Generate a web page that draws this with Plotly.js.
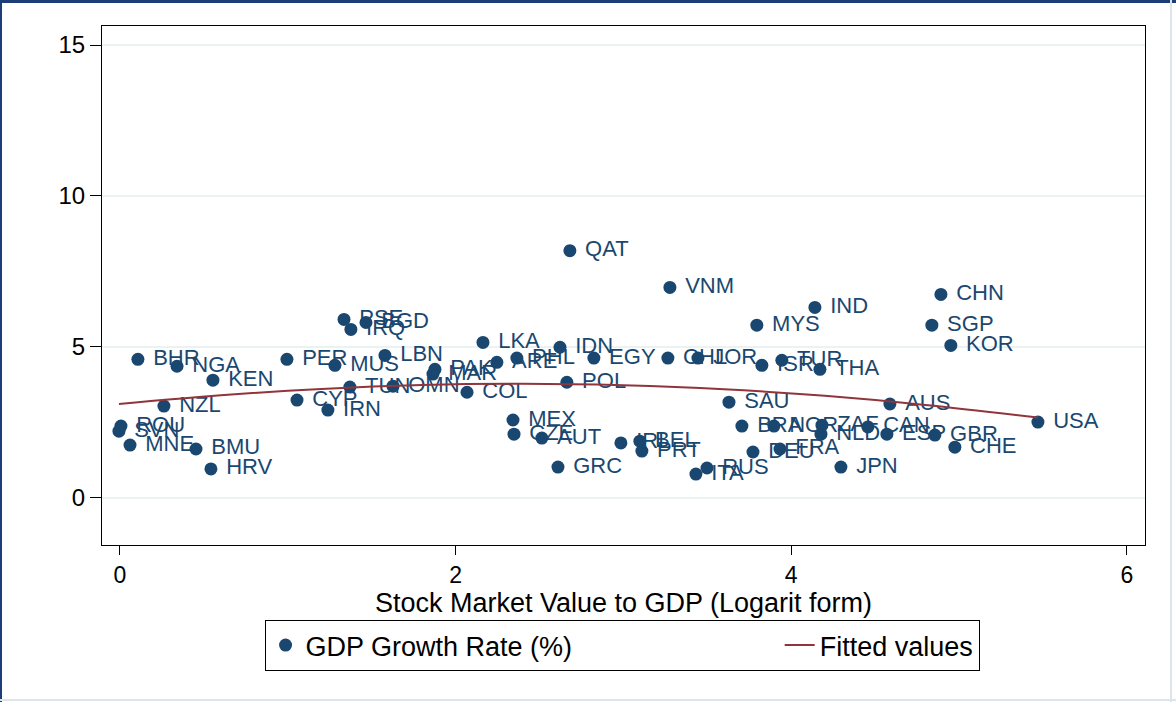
<!DOCTYPE html>
<html>
<head>
<meta charset="utf-8">
<script src="https://cdn.plot.ly/plotly-3.0.1.min.js"></script>
<style>html,body{margin:0;padding:0;background:#fff;}#chart{width:1176px;height:702px;}</style>
</head>
<body>
<div id="chart"></div>
<script>
// Country codes (labels)
const countries = ["BHR","NGA","KEN","PER","MUS","LBN","PAK","MAR","PSE","BGD","IRQ","LKA","IDN","ARE","PHL","EGY","CHL","JOR","MYS","IND","ISR","TUR","THA","QAT","VNM","CHN","SGP","KOR","TUN","OMN","COL","POL","SAU","AUS","USA","NZL","CYP","IRN","ROU","SVN","MNE","BMU","HRV","MEX","CZE","AUT","GRC","IRL","BEL","PRT","RUS","ITA","BRA","NOR","ZAF","NLD","CAN","ESP","GBR","CHE","DEU","FRA","JPN"];
// Stock market value to GDP (log)
const stockLog = [0.107,0.340,0.554,0.995,1.281,1.579,1.877,1.865,1.335,1.466,1.376,2.163,2.622,2.246,2.365,2.824,3.265,3.444,3.795,4.141,3.825,3.944,4.171,2.681,3.277,4.892,4.838,4.951,1.370,1.627,2.068,2.663,3.629,4.588,5.470,0.262,1.055,1.239,0.006,-0.006,0.060,0.453,0.542,2.342,2.348,2.514,2.610,2.985,3.098,3.110,3.498,3.432,3.706,3.897,4.183,4.177,4.457,4.570,4.856,4.975,3.772,3.933,4.296];
// GDP growth rate (%)
const gdpGrowth = [4.59,4.36,3.90,4.59,4.39,4.72,4.26,4.10,5.91,5.81,5.58,5.15,4.99,4.49,4.63,4.63,4.63,4.63,5.72,6.31,4.39,4.56,4.26,8.19,6.97,6.74,5.72,5.05,3.67,3.70,3.50,3.83,3.17,3.11,2.51,3.04,3.24,2.91,2.38,2.21,1.75,1.62,0.96,2.58,2.11,1.98,1.02,1.82,1.88,1.55,0.99,0.79,2.38,2.38,2.41,2.11,2.35,2.11,2.08,1.68,1.52,1.62,1.02];
// Fitted values
const fitX = [-0.006,0.6,1.2,1.8,2.4,3.0,3.6,4.2,4.8,5.47];
const fitY = [3.11,3.40,3.61,3.74,3.78,3.73,3.60,3.38,3.08,2.66];
// Axis ticks
const xTicks = [0,2,4,6];
const yTicks = [0,5,10,15];

const navy = "#1a476f";
const maroon = "#90353b";
const font = "Liberation Sans, Arial, Helvetica, sans-serif";
const nb = "\u00a0";

const traces = [
  {
    type: "scatter", mode: "markers+text",
    x: stockLog, y: gdpGrowth, text: countries.map(c => nb + c),
    textposition: "middle right",
    textfont: {family: font, size: 22, color: navy},
    marker: {color: navy, size: 13},
    name: "GDP Growth Rate (%)" + nb.repeat(27),
    cliponaxis: false
  },
  {
    type: "scatter", mode: "lines",
    x: fitX, y: fitY,
    line: {color: maroon, width: 2, shape: "spline"},
    name: "Fitted values"
  }
];

const W = 1043, H = 519;
function px2paperX(p){ return (p - 102) / W; }
function px2paperY(p){ return (545 - p) / H; }

const layout = {
  width: 1176, height: 702,
  margin: {l: 102, r: 31, t: 26, b: 157},
  paper_bgcolor: "#ffffff", plot_bgcolor: "#ffffff",
  font: {family: font, color: "#000"},
  showlegend: true,
  xaxis: {
    range: [-0.107, 6.108], tickvals: xTicks, ticktext: xTicks.map(String),
    ticks: "outside", ticklen: 9, tickcolor: "#000", tickwidth: 1,
    showline: true, mirror: true, linecolor: "#000", linewidth: 1,
    showgrid: false, zeroline: false,
    tickfont: {family: font, size: 23, color: "#000"},
    title: {text: "Stock Market Value to GDP (Logarit form)", font: {family: font, size: 27, color: "#000"}, standoff: 1}
  },
  yaxis: {
    range: [-1.56, 15.63], tickvals: yTicks, ticktext: yTicks.map(String),
    ticks: "outside", ticklen: 11, tickcolor: "#000", tickwidth: 1,
    showline: true, mirror: true, linecolor: "#000", linewidth: 1,
    showgrid: true, gridcolor: "#eaf2f3", gridwidth: 2, zeroline: false,
    tickfont: {family: font, size: 24, color: "#000"}
  },
  legend: {
    orientation: "h", x: 0.4986, xanchor: "center", y: px2paperY(620), yanchor: "top",
    bordercolor: "#000", borderwidth: 1, bgcolor: "#fff",
    font: {family: font, size: 27, color: "#000"},
    itemwidth: 30,
    traceorder: "normal"
  },
  shapes: [
    {type: "line", xref: "paper", yref: "paper", x0: px2paperX(0), x1: px2paperX(1176), y0: px2paperY(1.5), y1: px2paperY(1.5), line: {color: "#1c3d78", width: 3}},
    {type: "line", xref: "paper", yref: "paper", x0: px2paperX(1), x1: px2paperX(1), y0: px2paperY(0), y1: px2paperY(702), line: {color: "#1c3d78", width: 2}},
    {type: "line", xref: "paper", yref: "paper", x0: px2paperX(1171), x1: px2paperX(1171), y0: px2paperY(0), y1: px2paperY(702), line: {color: "#dde4ea", width: 2}},
    {type: "line", xref: "paper", yref: "paper", x0: px2paperX(0), x1: px2paperX(1176), y0: px2paperY(700), y1: px2paperY(700), line: {color: "#dde4ea", width: 2}}
  ]
};

Plotly.newPlot("chart", traces, layout, {displayModeBar: false, staticPlot: true});
</script>
</body>
</html>
